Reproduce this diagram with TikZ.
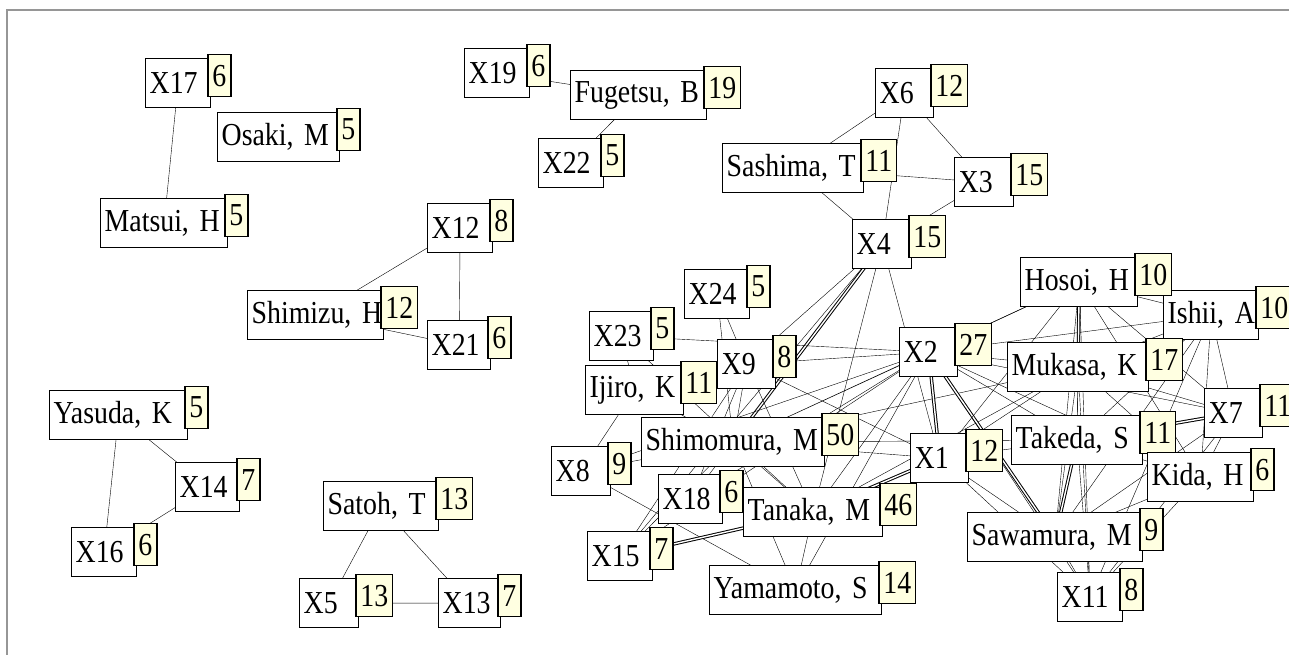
\documentclass[tikz,border=0pt]{standalone}
\usepackage{fontspec}
\newfontfamily\graphfont{Liberation Serif}[FakeStretch=0.87]
\usetikzlibrary{positioning}
\usetikzlibrary{backgrounds}
\definecolor{tallyfill}{RGB}{255,255,225}
\definecolor{framegray}{RGB}{150,150,150}

\begin{document}
\begin{tikzpicture}[x=1pt,y=-1pt,line width=1.3pt,
  namebox/.style={draw,fill=white,line width=1.3pt,anchor=north west,minimum height=49pt,
    inner xsep=4pt,inner ysep=0pt,align=left,text width=#1,font=\graphfont\fontsize{32}{36}\selectfont},
  tally/.style={draw,fill=tallyfill,line width=1.3pt,minimum height=42pt,
    inner xsep=4.5pt,inner ysep=0pt,font=\graphfont\fontsize{32}{36}\selectfont},
  twin/.style={double,double distance=1.4pt,line width=1pt}]
\useasboundingbox(0,0)rectangle(1289,655);

  % small groups on the left
  \node(x17)[namebox=57pt] at (145,58){X17};
  \node(x17c)[tally,below right=-4pt and -4pt of x17.north east]{6};
  \node(osaki)[namebox=114pt] at (217,112){Osaki,~M};
  \node(osakic)[tally,below right=-4pt and -4pt of osaki.north east]{5};
  \node(matsui)[namebox=119pt] at (100,198){Matsui,~H};
  \node(matsuic)[tally,below right=-4pt and -4pt of matsui.north east]{5};

  \node(x19)[namebox=57pt] at (464,48){X19};
  \node(x19c)[tally,below right=-4pt and -4pt of x19.north east]{6};
  \node(fugetsu)[namebox=128pt] at (570,70){Fugetsu,~B};
  \node(fugetsuc)[tally,below right=-4pt and -4pt of fugetsu.north east]{19};
  \node(x22)[namebox=57pt] at (538,138){X22};
  \node(x22c)[tally,below right=-4pt and -4pt of x22.north east]{5};

  \node(shimizu)[namebox=128pt] at (247,290){Shimizu,~H};
  \node(shimizuc)[tally,below right=-4pt and -4pt of shimizu.north east]{12};
  \node(x12)[namebox=57pt] at (427,203){X12};
  \node(x12c)[tally,below right=-4pt and -4pt of x12.north east]{8};
  \node(x21)[namebox=55pt] at (427,320){X21};
  \node(x21c)[tally,below right=-4pt and -4pt of x21.north east]{6};

  \node(yasuda)[namebox=130pt] at (49,390){Yasuda,~K};
  \node(yasudac)[tally,below right=-4pt and -4pt of yasuda.north east]{5};
  \node(x14)[namebox=56pt] at (175,462){X14};
  \node(x14c)[tally,below right=-4pt and -4pt of x14.north east]{7};
  \node(x16)[namebox=57pt] at (71,527){X16};
  \node(x16c)[tally,below right=-4pt and -4pt of x16.north east]{6};

  \node(satoh)[namebox=107pt] at (323,481){Satoh,~T};
  \node(satohc)[tally,below right=-4pt and -4pt of satoh.north east]{13};
  \node(x5)[namebox=51pt] at (299,578){X5};
  \node(x5c)[tally,below right=-4pt and -4pt of x5.north east]{13};
  \node(x13)[namebox=54pt] at (438,578){X13};
  \node(x13c)[tally,below right=-4pt and -4pt of x13.north east]{7};

  % big group
  \node(sashima)[namebox=133pt] at (722,143){Sashima,~T};
  \node(sashimac)[tally,below right=-4pt and -4pt of sashima.north east]{11};
  \node(x6)[namebox=50pt] at (875,68){X6};
  \node(x6c)[tally,below right=-4pt and -4pt of x6.north east]{12};
  \node(x3)[namebox=51pt] at (954,157){X3};
  \node(x3c)[tally,below right=-4pt and -4pt of x3.north east]{15};
  \node(x4)[namebox=51pt] at (852,219){X4};
  \node(x4c)[tally,below right=-4pt and -4pt of x4.north east]{15};
  \node(ishii)[namebox=87pt] at (1163,290){Ishii,~A};
  \node(ishiic)[tally,below right=-4pt and -4pt of ishii.north east]{10};
  \node(hosoi)[namebox=109pt] at (1020,257){Hosoi,~H};
  \node(hosoic)[tally,below right=-4pt and -4pt of hosoi.north east]{10};
  \node(x7)[namebox=50pt] at (1204,388){X7};
  \node(x7c)[tally,below right=-4pt and -4pt of x7.north east]{11};
  \node(mukasa)[namebox=133pt] at (1007,342){Mukasa,~K};
  \node(mukasac)[tally,below right=-4pt and -4pt of mukasa.north east]{17};
  \node(x2)[namebox=50pt] at (899,327){X2};
  \node(x2c)[tally,below right=-4pt and -4pt of x2.north east]{27};
  \node(takeda)[namebox=123pt] at (1011,415){Takeda,~S};
  \node(takedac)[tally,below right=-4pt and -4pt of takeda.north east]{11};
  \node(x1)[namebox=50pt] at (910,433){X1};
  \node(x1c)[tally,below right=-4pt and -4pt of x1.north east]{12};
  \node(kida)[namebox=98pt] at (1147,452){Kida,~H};
  \node(kidac)[tally,below right=-4pt and -4pt of kida.north east]{6};
  \node(sawamura)[namebox=167pt] at (967,512){Sawamura,~M};
  \node(sawamurac)[tally,below right=-4pt and -4pt of sawamura.north east]{9};
  \node(x11)[namebox=57pt] at (1057,572){X11};
  \node(x11c)[tally,below right=-4pt and -4pt of x11.north east]{8};
  \node(x24)[namebox=57pt] at (684,269){X24};
  \node(x24c)[tally,below right=-4pt and -4pt of x24.north east]{5};
  \node(x23)[namebox=56pt] at (589,311){X23};
  \node(x23c)[tally,below right=-4pt and -4pt of x23.north east]{5};
  \node(x9)[namebox=50pt] at (717,339){X9};
  \node(x9c)[tally,below right=-4pt and -4pt of x9.north east]{8};
  \node(ijiro)[namebox=90pt] at (585,365){Ijiro,~K};
  \node(ijiroc)[tally,below right=-4pt and -4pt of ijiro.north east]{11};
  \node(shimomura)[namebox=175pt] at (641,417){Shimomura,~M};
  \node(shimomurac)[tally,below right=-4pt and -4pt of shimomura.north east]{50};
  \node(x8)[namebox=51pt] at (551,446){X8};
  \node(x8c)[tally,below right=-4pt and -4pt of x8.north east]{9};
  \node(x18)[namebox=56pt] at (658,474){X18};
  \node(x18c)[tally,below right=-4pt and -4pt of x18.north east]{6};
  \node(tanaka)[namebox=131pt] at (743,487){Tanaka,~M};
  \node(tanakac)[tally,below right=-4pt and -4pt of tanaka.north east]{46};
  \node(x15)[namebox=57pt] at (587,531){X15};
  \node(x15c)[tally,below right=-4pt and -4pt of x15.north east]{7};
  \node(yamamoto)[namebox=164pt] at (709,565){Yamamoto,~S};
  \node(yamamotoc)[tally,below right=-4pt and -4pt of yamamoto.north east]{14};

\begin{scope}[on background layer]
  \draw[framegray,line width=1.5pt](7,655)--(7,10)--(1289,10);

  \draw(x17.center)--(matsui.center);
  \draw(x19.center)--(fugetsu.center) (fugetsu.center)--(x22.center);
  \draw(shimizu.center)--(x12.center) (shimizu.center)--(x21.center) (x12.center)--(x21.center);
  \draw(yasuda.center)--(x16.center) (yasuda.center)--(x14.center) (x14.center)--(x16.center);
  \draw(satoh.center)--(x5.center) (satoh.center)--(x13.center) (x5.center)--(x13.center);

  \draw(sashima.center)--(x6.center) (sashima.center)--(x3.center) (sashima.center)--(x4.center);
  \draw(x6.center)--(x3.center) (x6.center)--(x4.center) (x3.center)--(x4.center);
  \draw(x4.center)--(x9.center) (x4.center)--(x18.center) (x4.center)--(x15.center)
    (x4.center)--(tanaka.center) (x4.center)--(x1.center);
  \draw[twin](x4.center)--(shimomura.center);
  \draw(x24.center)--(x9.center) (x24.center)--(shimomura.center);
  \draw(x23.center)--(ijiro.center) (x23.center)--(tanaka.center) (x23.center)--(x2.center);
  \draw(ijiro.center)--(x8.center) (ijiro.center)--(shimomura.center) (ijiro.center)--(x9.center);
  \draw(x9.center)--(x2.center) (x9.center)--(x1.center) (x9.center)--(x15.center)
    (x9.center)--(x18.center) (x9.center)--(shimomura.center) (x9.center)--(tanaka.center);
  \draw(x8.center)--(shimomura.center) (x8.center)--(x2.center) (x8.center)--(yamamoto.center);
  \draw(x18.center)--(tanaka.center) (x18.center)--(x2.center);
  \draw(x15.center)--(shimomura.center) (x15.center)--(x2.center);
  \draw[twin](x15.center)--(tanaka.center);
  \draw(shimomura.center)--(tanaka.center) (shimomura.center)--(yamamoto.center)
    (shimomura.center)--(x1.center) (shimomura.center)--(x2.center)
    (shimomura.center)--(mukasa.center) (shimomura.center)--(hosoi.center)
    (shimomura.center)--(takeda.center);
  \draw(tanaka.center)--(yamamoto.center) (tanaka.center)--(x2.center) (tanaka.center)--(mukasa.center);
  \draw[twin](tanaka.center)--(x1.center);
  \draw(yamamoto.center)--(x2.center);
  \draw(x2.center)--(hosoi.center) (x2.center)--(ishii.center) (x2.center)--(mukasa.center)
    (x2.center)--(takeda.center) (x2.center)--(x11.center) (x2.center)--(x7.center)
    (x2.center)--(kida.center);
  \draw[twin](x2.center)--(sawamura.center) (x2.center)--(x1.center);
  \draw(x1.center)--(mukasa.center) (x1.center)--(hosoi.center) (x1.center)--(x11.center)
    (x1.center)--(sawamura.center) (x1.center)--(takeda.center);
  \draw(hosoi.center)--(ishii.center) (hosoi.center)--(takeda.center) (hosoi.center)--(sawamura.center)
    (hosoi.center)--(x11.center) (hosoi.center)--(kida.center) (hosoi.center)--(x7.center);
  \draw[twin](hosoi.center)--(mukasa.center);
  \draw(ishii.center)--(mukasa.center) (ishii.center)--(x7.center) (ishii.center)--(kida.center)
    (ishii.center)--(takeda.center) (ishii.center)--(x11.center) (ishii.center)--(sawamura.center);
  \draw(mukasa.center)--(takeda.center) (mukasa.center)--(sawamura.center) (mukasa.center)--(x11.center)
    (mukasa.center)--(x7.center) (mukasa.center)--(kida.center);
  \draw(takeda.center)--(kida.center) (takeda.center)--(x11.center);
  \draw[twin](takeda.center)--(x7.center) (takeda.center)--(sawamura.center);
  \draw(x7.center)--(kida.center) (x7.center)--(sawamura.center) (x7.center)--(x11.center);
  \draw(kida.center)--(sawamura.center) (kida.center)--(x11.center) (sawamura.center)--(x11.center);
\end{scope}
\end{tikzpicture}
\end{document}
